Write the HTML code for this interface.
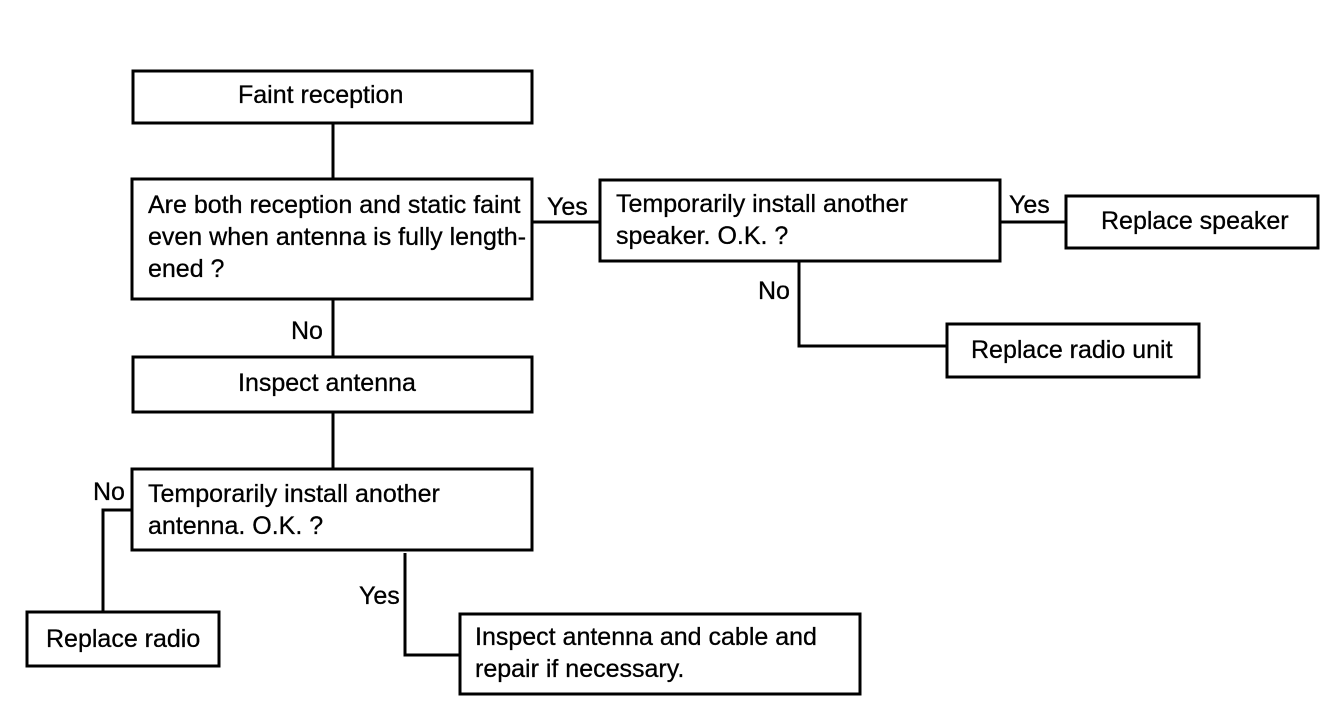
<!DOCTYPE html>
<html><head><meta charset="utf-8"><style>
body{margin:0;width:1344px;height:720px;background:#fff;overflow:hidden;position:relative;font-family:"Liberation Sans",sans-serif;}
.t{position:absolute;font-size:25px;line-height:32px;color:#000;white-space:nowrap;-webkit-text-stroke:0.3px #000;}
svg{position:absolute;left:0;top:0}
</style></head><body>
<svg width="1344" height="720" fill="none" stroke="#000" stroke-width="3">
<rect x="133" y="71" width="399" height="52"/>
<rect x="132" y="179" width="400" height="120"/>
<rect x="133" y="357" width="399" height="55"/>
<rect x="132" y="469" width="400" height="81"/>
<rect x="27" y="612" width="192" height="54"/>
<rect x="460" y="614" width="400" height="80"/>
<rect x="600" y="180" width="400" height="81"/>
<rect x="1066" y="196" width="252" height="52"/>
<rect x="947" y="324" width="252" height="53"/>
<line x1="333" y1="123" x2="333" y2="179"/>
<line x1="333" y1="299" x2="333" y2="357"/>
<line x1="333" y1="412" x2="333" y2="469"/>
<line x1="532" y1="222" x2="600" y2="222"/>
<line x1="1000" y1="222" x2="1066" y2="222"/>
<polyline points="799,261 799,346 947,346"/>
<polyline points="132,510 103,510 103,612"/>
<polyline points="405,553 405,655 460,655"/>
</svg>
<div class="t" style="left:238px;top:79px">Faint reception</div>
<div class="t" style="left:148px;top:189px">Are both reception and static faint<br>even when antenna is fully length-<br>ened ?</div>
<div class="t" style="left:238px;top:367px">Inspect antenna</div>
<div class="t" style="left:148px;top:478px">Temporarily install another<br>antenna. O.K. ?</div>
<div class="t" style="left:46px;top:623px">Replace radio</div>
<div class="t" style="left:475px;top:621px">Inspect antenna and cable and<br>repair if necessary.</div>
<div class="t" style="left:616px;top:188px">Temporarily install another<br>speaker. O.K. ?</div>
<div class="t" style="left:1101px;top:205px">Replace speaker</div>
<div class="t" style="left:971px;top:334px">Replace radio unit</div>
<div class="t" style="left:547px;top:191px">Yes</div>
<div class="t" style="left:1009px;top:189px">Yes</div>
<div class="t" style="left:758px;top:275px">No</div>
<div class="t" style="left:291px;top:315px">No</div>
<div class="t" style="left:93px;top:476px">No</div>
<div class="t" style="left:359px;top:580px">Yes</div>
</body></html>
